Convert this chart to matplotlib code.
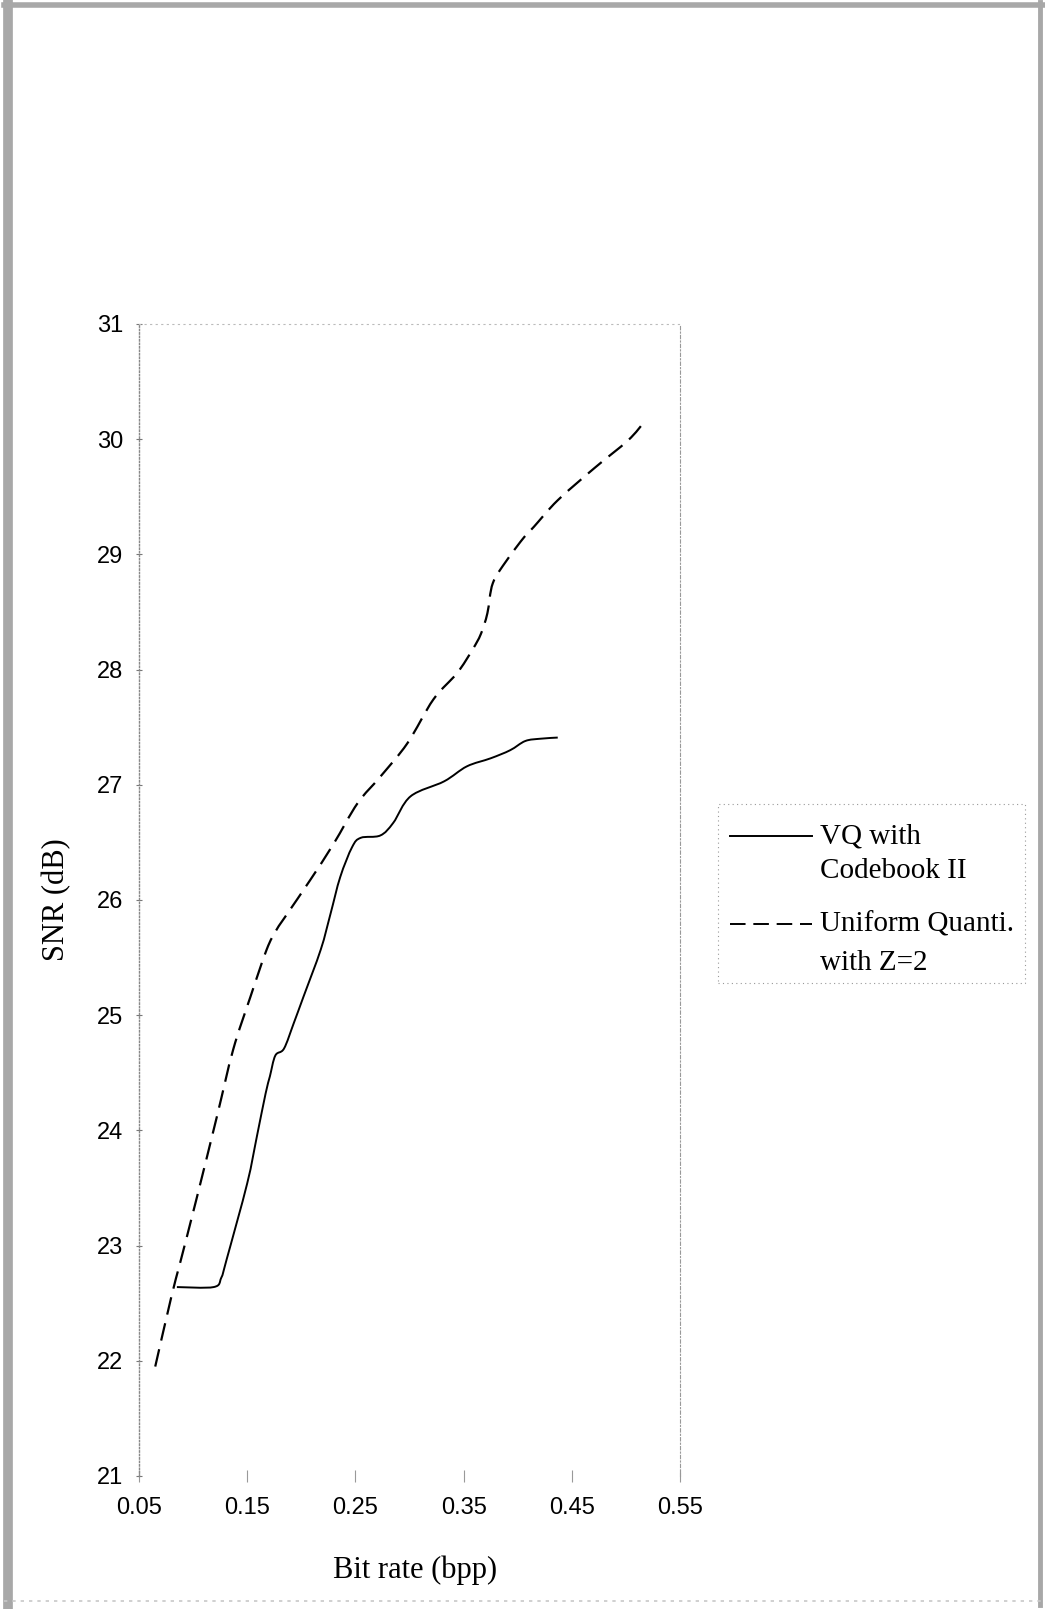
import matplotlib
matplotlib.use("Agg")
import matplotlib.pyplot as plt
from matplotlib.lines import Line2D
from matplotlib.patches import Rectangle, PathPatch
from matplotlib.path import Path

# VQ with Codebook II
vq_rate = [0.085, 0.119, 0.126, 0.131, 0.150, 0.159, 0.167, 0.171, 0.176, 0.184,
           0.193, 0.202, 0.218, 0.227, 0.236, 0.247, 0.255, 0.273, 0.285, 0.301,
           0.332, 0.353, 0.375, 0.393, 0.407, 0.421, 0.437]
vq_snr = [22.64, 22.64, 22.72, 22.88, 23.54, 23.95, 24.32, 24.47, 24.65, 24.71,
          24.93, 25.16, 25.57, 25.88, 26.20, 26.46, 26.54, 26.56, 26.67, 26.90,
          27.03, 27.16, 27.23, 27.30, 27.38, 27.40, 27.41]

# Uniform quantisation with Z=2
uq_rate = [0.065, 0.080, 0.088, 0.103, 0.122, 0.137, 0.153, 0.168, 0.177, 0.187,
           0.208, 0.230, 0.252, 0.273, 0.298, 0.322, 0.344, 0.358, 0.366, 0.372,
           0.377, 0.390, 0.406, 0.415, 0.437, 0.471, 0.502, 0.517]
uq_snr = [21.95, 22.56, 22.85, 23.40, 24.12, 24.70, 25.16, 25.57, 25.74, 25.88,
          26.17, 26.49, 26.84, 27.07, 27.36, 27.74, 27.97, 28.17, 28.31, 28.49,
          28.75, 28.95, 29.15, 29.24, 29.47, 29.75, 29.99, 30.15]

x_ticks = [0.05, 0.15, 0.25, 0.35, 0.45, 0.55]
y_ticks = [21, 22, 23, 24, 25, 26, 27, 28, 29, 30, 31]

W, H = 1045, 1609
fig = plt.figure(figsize=(W / 100, H / 100), dpi=100)


def fx(px):
    return px / W


def fy(py):
    return 1 - py / H


def smooth_path(xs, ys):
    # spreadsheet-style smoothed line: cubic bezier through every point
    pts = list(zip(xs, ys))
    verts = [pts[0]]
    codes = [Path.MOVETO]
    n = len(pts)
    for i in range(n - 1):
        p0 = pts[max(i - 1, 0)]
        p1 = pts[i]
        p2 = pts[i + 1]
        p3 = pts[min(i + 2, n - 1)]
        c1 = (p1[0] + (p2[0] - p0[0]) / 6, p1[1] + (p2[1] - p0[1]) / 6)
        c2 = (p2[0] - (p3[0] - p1[0]) / 6, p2[1] - (p3[1] - p1[1]) / 6)
        verts += [c1, c2, p2]
        codes += [Path.CURVE4] * 3
    return Path(verts, codes)


# plot box in pixels: left 139, right 680, top 324, bottom 1476
ax = fig.add_axes([fx(139), fy(1476), fx(680) - fx(139), fy(324) - fy(1476)])

ax.add_patch(PathPatch(smooth_path(vq_rate, vq_snr), fill=False,
                       edgecolor="black", lw=1.4, joinstyle="round"))
uq_patch = PathPatch(smooth_path(uq_rate, uq_snr), fill=False,
                     edgecolor="black", lw=1.6)
uq_patch.set_linestyle((0, (8, 4)))
ax.add_patch(uq_patch)

ax.set_xlim(0.05, 0.55)
ax.set_ylim(21, 31)
ax.set_xticks(x_ticks)
ax.set_xticklabels([f"{v:.2f}" for v in x_ticks])
ax.set_yticks(y_ticks)

for lab in ax.get_xticklabels() + ax.get_yticklabels():
    lab.set_fontfamily("Liberation Sans")
    lab.set_fontsize(17)

ax.tick_params(axis="y", direction="inout", length=5, width=0.8, color="#777777", pad=9)
ax.tick_params(axis="x", direction="inout", length=8, width=0.8, color="#999999", pad=11)

ax.spines["left"].set_color("#888888")
ax.spines["left"].set_linestyle((0, (1, 1.5)))
ax.spines["left"].set_linewidth(1.0)
ax.spines["top"].set_color("#bbbbbb")
ax.spines["top"].set_linestyle((0, (1, 4)))
ax.spines["top"].set_linewidth(0.8)
ax.spines["right"].set_color("#999999")
ax.spines["right"].set_linestyle((0, (3, 2, 1, 2)))
ax.spines["right"].set_linewidth(0.8)
ax.spines["bottom"].set_visible(False)

ax.set_ylabel("SNR (dB)", family="Liberation Serif", fontsize=22)
ax.yaxis.set_label_coords(-0.125, 0.5)
ax.set_xlabel("Bit rate (bpp)", family="Liberation Serif", fontsize=22)
ax.xaxis.set_label_coords(0.511, -0.069)

# legend box, drawn by hand so the keys sit on the first text line
fig.add_artist(Rectangle((fx(718), fy(983)), fx(1025) - fx(718), fy(804) - fy(983),
                         transform=fig.transFigure, fill=False,
                         edgecolor="#999999", lw=0.8, linestyle=(0, (1, 3))))
fig.add_artist(Line2D([fx(730), fx(812)], [fy(836), fy(836)],
                      transform=fig.transFigure, color="black", lw=1.4))
fig.add_artist(Line2D([fx(730), fx(812)], [fy(924), fy(924)],
                      transform=fig.transFigure, color="black", lw=1.4, dashes=(8, 4)))
leg_font = {"family": "Liberation Serif", "fontsize": 21, "va": "center", "ha": "left"}
fig.text(fx(820), fy(836), "VQ with", **leg_font)
fig.text(fx(820), fy(871), "Codebook II", **leg_font)
fig.text(fx(820), fy(925), "Uniform Quanti.", **leg_font)
fig.text(fx(820), fy(963), "with Z=2", **leg_font)

# page border
fig.add_artist(Line2D([fx(8), fx(8)], [fy(2), fy(1605)], transform=fig.transFigure,
                      color="#a8a8a8", lw=7))
fig.add_artist(Line2D([fx(4), fx(1043)], [fy(5), fy(5)], transform=fig.transFigure,
                      color="#a8a8a8", lw=4))
fig.add_artist(Line2D([fx(1040), fx(1040)], [fy(2), fy(1605)], transform=fig.transFigure,
                      color="#a8a8a8", lw=3.5))
fig.add_artist(Line2D([fx(4), fx(1043)], [fy(1601), fy(1601)], transform=fig.transFigure,
                      color="#c8c8c8", lw=1.2, linestyle=(0, (2, 3))))

fig.savefig("out.png", dpi=100)
